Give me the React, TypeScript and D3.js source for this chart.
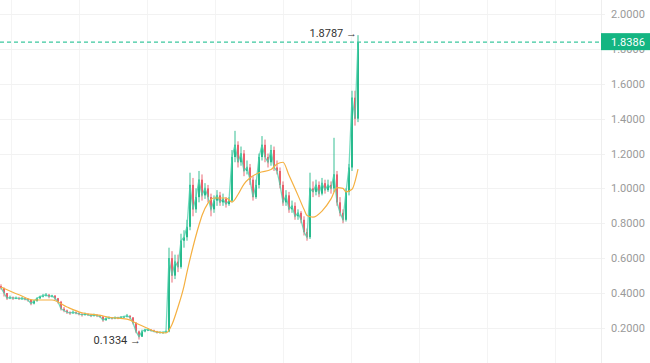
import React from "react";
import * as d3 from "d3";

// [open, high, low, close]
const candles: [number, number, number, number][] = [
  [0.44,0.45,0.42,0.43],[0.43,0.43,0.38,0.40],[0.40,0.40,0.36,0.37],[0.37,0.385,0.365,0.375],
  [0.375,0.38,0.36,0.37],[0.37,0.38,0.365,0.372],[0.372,0.378,0.36,0.368],[0.368,0.378,0.362,0.37],
  [0.37,0.375,0.358,0.365],[0.365,0.37,0.35,0.36],[0.36,0.362,0.33,0.34],[0.34,0.36,0.335,0.355],
  [0.355,0.375,0.35,0.37],[0.37,0.385,0.365,0.38],[0.38,0.395,0.375,0.385],[0.385,0.40,0.38,0.39],
  [0.39,0.395,0.37,0.38],[0.38,0.39,0.375,0.385],[0.385,0.388,0.36,0.37],[0.37,0.372,0.34,0.35],
  [0.35,0.355,0.30,0.31],[0.31,0.32,0.29,0.30],[0.30,0.305,0.28,0.29],[0.29,0.295,0.275,0.285],
  [0.285,0.30,0.28,0.29],[0.29,0.295,0.278,0.285],[0.285,0.29,0.272,0.28],[0.28,0.285,0.265,0.275],
  [0.275,0.288,0.27,0.28],[0.28,0.283,0.268,0.275],[0.275,0.28,0.262,0.27],[0.27,0.282,0.265,0.275],
  [0.275,0.278,0.262,0.27],[0.27,0.275,0.258,0.265],[0.265,0.268,0.235,0.245],[0.245,0.26,0.24,0.255],
  [0.255,0.265,0.25,0.26],[0.26,0.262,0.248,0.255],[0.255,0.265,0.25,0.26],[0.26,0.264,0.25,0.258],
  [0.258,0.268,0.255,0.262],[0.262,0.27,0.258,0.265],[0.265,0.28,0.26,0.27],[0.27,0.272,0.25,0.26],
  [0.26,0.262,0.22,0.23],[0.23,0.232,0.17,0.18],[0.18,0.185,0.1334,0.15],[0.15,0.19,0.148,0.18],
  [0.18,0.195,0.175,0.19],[0.19,0.198,0.182,0.19],[0.19,0.192,0.18,0.185],[0.185,0.19,0.175,0.18],
  [0.18,0.183,0.168,0.175],[0.175,0.18,0.17,0.175],[0.175,0.18,0.168,0.175],[0.175,0.185,0.172,0.18],
  [0.18,0.66,0.175,0.60],[0.60,0.64,0.46,0.50],[0.50,0.62,0.48,0.58],[0.58,0.62,0.52,0.55],
  [0.55,0.74,0.54,0.70],[0.70,0.76,0.66,0.72],[0.72,0.82,0.70,0.78],[0.78,1.09,0.76,1.02],
  [1.02,1.06,0.84,0.88],[0.88,1.00,0.86,0.95],[0.95,1.10,0.92,1.05],[1.05,1.08,0.93,0.96],
  [0.96,1.03,0.94,1.00],[1.00,1.02,0.92,0.95],[0.95,0.97,0.84,0.88],[0.88,0.96,0.86,0.93],
  [0.93,0.99,0.90,0.96],[0.96,0.98,0.90,0.92],[0.92,0.97,0.90,0.94],[0.94,0.95,0.89,0.91],
  [0.91,0.95,0.90,0.93],[0.93,1.22,0.92,1.18],[1.18,1.33,1.15,1.25],[1.25,1.27,1.12,1.15],
  [1.15,1.24,1.13,1.20],[1.20,1.22,1.07,1.10],[1.10,1.16,1.08,1.12],[1.12,1.14,1.02,1.05],
  [1.05,1.07,0.93,0.95],[0.95,1.05,0.94,1.02],[1.02,1.20,1.00,1.18],[1.18,1.30,1.16,1.25],
  [1.25,1.28,1.15,1.18],[1.18,1.20,1.12,1.15],[1.15,1.25,1.13,1.22],[1.22,1.24,1.10,1.12],
  [1.12,1.16,1.08,1.10],[1.10,1.12,1.00,1.02],[1.02,1.04,0.90,0.92],[0.92,0.99,0.90,0.96],
  [0.96,0.98,0.86,0.88],[0.88,0.93,0.86,0.90],[0.90,0.92,0.82,0.84],[0.84,0.88,0.82,0.86],
  [0.86,0.87,0.80,0.82],[0.82,0.84,0.73,0.75],[0.75,0.77,0.70,0.72],[0.72,1.09,0.71,1.00],
  [1.00,1.04,0.95,0.98],[0.98,1.05,0.96,1.02],[1.02,1.04,0.95,0.97],[0.97,1.06,0.96,1.03],
  [1.03,1.05,0.97,0.99],[0.99,1.05,0.98,1.02],[1.02,1.04,0.97,1.00],[1.00,1.29,0.98,1.08],
  [1.08,1.10,0.90,0.92],[0.92,0.95,0.84,0.86],[0.86,0.88,0.80,0.82],[0.82,1.00,0.81,0.98],
  [0.98,1.14,0.96,1.12],[1.12,1.56,1.10,1.52],[1.52,1.56,1.36,1.40],[1.40,1.8787,1.38,1.8386],
];

// moving average: candle index -> value
const maIndex = [0,6,11,17,22,27,33,36,42,46,52,55,57,59,61,62,64,66,67,69,71,75,77,79,81,83,86,90,92,94,96,99,101,102,104,107,110,112,114,115,117,119];
const maValues = [0.435,0.39,0.36,0.36,0.32,0.287,0.272,0.261,0.25,0.22,0.177,0.171,0.22,0.32,0.44,0.52,0.664,0.79,0.845,0.916,0.945,0.945,0.922,0.965,1.025,1.06,1.09,1.108,1.14,1.15,1.075,0.96,0.88,0.845,0.835,0.87,0.94,1.005,1.0,0.98,0.995,1.11];

const yTicks = [0.2,0.4,0.6,0.8,1.0,1.2,1.4,1.6,1.8,2.0];
const lastPrice = 1.8386;
const highLabel = { index: 119, value: 1.8787 };
const lowLabel = { index: 46, value: 0.1334 };

const W = 650, H = 363;
const AXIS_X = 601;
const GREEN = "#14b582";
const RED = "#e8505e";
const FONT = "Roboto, 'Noto Sans', sans-serif";

export default function App() {
  const x = d3.scaleLinear().domain([0, candles.length - 1]).range([1, 358]);
  const y = d3.scaleLinear().domain([0, 2]).range([362.8, 14]);

  const closeLine = d3.line<[number, number, number, number]>()
    .x((_, i) => x(i)).y((d) => y(d[3]));
  const maLine = d3.line<number>()
    .x((_, i) => x(maIndex[i])).y((d) => y(d))
    .curve(d3.curveMonotoneX);

  const vGrid = d3.range(11, AXIS_X, 68);

  return (
    <svg width={W} height={H} style={{ position: "absolute", left: 0, top: 0, display: "block", background: "#fff" }}>
      {/* grid */}
      {vGrid.map((gx) => (
        <line key={"v" + gx} x1={gx + 0.5} x2={gx + 0.5} y1={0} y2={H} stroke="#f4f4f4" strokeWidth={1} />
      ))}
      {yTicks.map((t) => (
        <line key={"h" + t} x1={0} x2={AXIS_X + 4} y1={Math.round(y(t)) + 0.5} y2={Math.round(y(t)) + 0.5} stroke="#f2f2f2" strokeWidth={1} />
      ))}
      <line x1={AXIS_X + 0.5} x2={AXIS_X + 0.5} y1={0} y2={H} stroke="#eeeeee" strokeWidth={1} />

      {/* candles */}
      {candles.map((c, i) => {
        const [o, h, l, cl] = c;
        const up = cl >= o;
        const col = up ? GREEN : RED;
        const cx = x(i);
        const top = y(Math.max(o, cl));
        const bot = y(Math.min(o, cl));
        return (
          <g key={i}>
            <line x1={cx} x2={cx} y1={y(h)} y2={y(l)} stroke={col} strokeWidth={1} opacity={0.85} />
            <rect x={cx - 1} y={top} width={2} height={Math.max(1, bot - top)} fill={col} opacity={0.85} />
          </g>
        );
      })}

      {/* close line */}
      <path d={closeLine(candles) || ""} fill="none" stroke="#4fd1ad" strokeWidth={1.3} opacity={0.8} />
      {/* moving average */}
      <path d={maLine(maValues) || ""} fill="none" stroke="#f5b041" strokeWidth={1.2} />

      {/* last price dashed line */}
      <line x1={0} x2={AXIS_X} y1={y(lastPrice)} y2={y(lastPrice)} stroke="#3cc79f" strokeWidth={1.2} strokeDasharray="4 3" />

      {/* y labels */}
      {yTicks.map((t) => (
        <text key={"t" + t} x={611} y={y(t) + 4} fontSize={11} fontFamily={FONT} fill="#9a9a9a">
          {t.toFixed(4)}
        </text>
      ))}

      {/* last price label */}
      <rect x={AXIS_X} y={y(lastPrice) - 9} width={W - AXIS_X} height={17} fill={GREEN} />
      <text x={611} y={y(lastPrice) + 4} fontSize={11} fontFamily={FONT} fill="#ffffff">
        {lastPrice.toFixed(4)}
      </text>

      {/* high / low annotations */}
      <text x={x(highLabel.index) - 1} y={y(highLabel.value) + 2} fontSize={11} fontFamily={FONT} fill="#333" textAnchor="end">
        {highLabel.value.toFixed(4) + " →"}
      </text>
      <text x={x(lowLabel.index) + 2} y={y(lowLabel.value) + 4} fontSize={11} fontFamily={FONT} fill="#333" textAnchor="end">
        {lowLabel.value.toFixed(4) + " →"}
      </text>
    </svg>
  );
}
